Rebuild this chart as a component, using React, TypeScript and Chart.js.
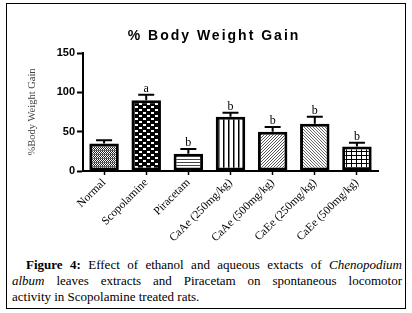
import React, { useEffect, useRef } from "react";
import { Chart, registerables } from "chart.js";

Chart.register(...registerables);

const categories = [
  "Normal",
  "Scopolamine",
  "Piracetam",
  "CaAe (250mg/kg)",
  "CaAe (500mg/kg)",
  "CaEe (250mg/kg)",
  "CaEe (500mg/kg)",
];
const means = [35, 90, 22, 69, 50, 60, 31];
const sems = [4, 7, 6, 5, 6, 9, 5];
const letters = ["", "a", "b", "b", "b", "b", "b"];
const yTickValues = [0, 50, 100, 150];
const chartTitle = "% Body Weight Gain";
const yAxisTitle = "%Body Weight Gain";

type Drawer = (g: CanvasRenderingContext2D, w: number, h: number) => void;

function makePattern(ctx: CanvasRenderingContext2D, w: number, h: number, draw: Drawer) {
  const c = document.createElement("canvas");
  c.width = w;
  c.height = h;
  const g = c.getContext("2d")!;
  g.fillStyle = "#fff";
  g.fillRect(0, 0, w, h);
  draw(g, w, h);
  return ctx.createPattern(c, "repeat")!;
}

const patternDrawers: [number, number, Drawer][] = [
  // Normal: fine checker with grey rows
  [4, 4, (g) => {
    g.fillStyle = "#222";
    for (let y = 0; y < 4; y++)
      for (let x = 0; x < 4; x++) if ((x + y) % 2 === 0) g.fillRect(x, y, 1, 1);
    g.fillStyle = "#666";
    g.fillRect(0, 3, 4, 1);
  }],
  // Scopolamine: bold checker
  [8, 6, (g) => {
    g.fillStyle = "#000";
    g.fillRect(0, 0, 8, 6);
    g.fillStyle = "#fff";
    g.fillRect(1, 1, 3, 2);
    g.fillRect(5, 4, 3, 2);
  }],
  // Piracetam: horizontal lines
  [3, 3, (g) => {
    g.fillStyle = "#444";
    g.fillRect(0, 0, 3, 1);
  }],
  // CaAe 250: vertical lines
  [5, 5, (g) => {
    g.fillStyle = "#000";
    g.fillRect(2, 0, 1.5, 5);
  }],
  // CaAe 500: fine diagonal texture
  [3, 3, (g) => {
    g.fillStyle = "#555";
    g.fillRect(2, 0, 1, 1);
    g.fillRect(1, 1, 1, 1);
    g.fillRect(0, 2, 1, 1);
  }],
  // CaEe 250: fine diagonal texture, other way
  [3, 3, (g) => {
    g.fillStyle = "#666";
    g.fillRect(0, 0, 1, 1);
    g.fillRect(1, 1, 1, 1);
    g.fillRect(2, 2, 1, 1);
  }],
  // CaEe 500: grid
  [5, 4, (g) => {
    g.fillStyle = "#000";
    g.fillRect(0, 0, 5, 1);
    g.fillRect(0, 0, 1, 4);
  }],
];

const overlayPlugin = {
  id: "overlay",
  afterDatasetsDraw(chart: any) {
    const ctx: CanvasRenderingContext2D = chart.ctx;
    const meta = chart.getDatasetMeta(0);
    const yScale = chart.scales.y;
    ctx.save();
    meta.data.forEach((el: any, i: number) => {
      const x = el.x;
      const yTop = yScale.getPixelForValue(means[i] + sems[i]);
      const yMean = yScale.getPixelForValue(means[i]);
      ctx.strokeStyle = "#000";
      ctx.lineWidth = 2;
      ctx.beginPath();
      ctx.moveTo(x, yMean);
      ctx.lineTo(x, yTop);
      ctx.moveTo(x - 8, yTop);
      ctx.lineTo(x + 8, yTop);
      ctx.stroke();
      if (letters[i]) {
        ctx.fillStyle = "#000";
        ctx.font = "12px 'Liberation Serif', serif";
        ctx.textAlign = "center";
        ctx.textBaseline = "alphabetic";
        ctx.fillText(letters[i], x, yTop - 3);
      }
    });
    ctx.restore();
  },
  afterDraw(chart: any) {
    const ctx: CanvasRenderingContext2D = chart.ctx;
    ctx.save();
    ctx.fillStyle = "#000";
    ctx.font = "bold 14px 'Liberation Sans', Arial, sans-serif";
    (ctx as any).letterSpacing = "2px";
    ctx.textAlign = "center";
    ctx.textBaseline = "alphabetic";
    ctx.fillText(chartTitle, 208, 37);
    (ctx as any).letterSpacing = "0px";
    ctx.translate(26, 109);
    ctx.rotate(-Math.PI / 2);
    ctx.font = "10.5px 'Liberation Serif', serif";
    ctx.fillStyle = "#444";
    ctx.textBaseline = "middle";
    ctx.fillText(yAxisTitle, 0, 0);
    ctx.restore();
  },
};

export default function App() {
  const ref = useRef<HTMLCanvasElement>(null);

  useEffect(() => {
    const canvas = ref.current!;
    const ctx = canvas.getContext("2d")!;
    const patterns = patternDrawers.map(([w, h, d]) => makePattern(ctx, w, h, d));
    const chart = new Chart(canvas, {
      type: "bar",
      data: {
        labels: categories,
        datasets: [
          {
            data: means,
            backgroundColor: patterns as any,
            borderColor: "#000",
            borderWidth: 3,
            borderSkipped: false,
            categoryPercentage: 1,
            barPercentage: 0.7,
          },
        ],
      },
      options: {
        responsive: false,
        animation: false,
        devicePixelRatio: 1,
        layout: { padding: { top: 50, right: 28, bottom: 0, left: 0 } },
        plugins: {
          legend: { display: false },
          tooltip: { enabled: false },
          title: { display: false },
        },
        scales: {
          x: {
            grid: {
              offset: false,
              drawOnChartArea: false,
              drawTicks: true,
              tickLength: 4,
              tickWidth: 1.5,
              tickColor: "#000",
            },
            border: { color: "#000", width: 2 },
            ticks: {
              color: "#000",
              maxRotation: 45,
              minRotation: 45,
              autoSkip: false,
              padding: 1,
              font: { family: "'Liberation Serif', serif", size: 11.5 },
            },
            afterFit(scale: any) {
              scale.height = 77;
            },
          },
          y: {
            min: 0,
            max: 150,
            afterBuildTicks(scale: any) {
              scale.ticks = yTickValues.map((v) => ({ value: v }));
            },
            grid: {
              drawOnChartArea: false,
              drawTicks: true,
              tickLength: 6,
              tickWidth: 2,
              tickColor: "#000",
            },
            border: { color: "#000", width: 2 },
            ticks: {
              color: "#000",
              padding: 2,
              font: { family: "'Liberation Sans', Arial, sans-serif", size: 11, weight: "bold" },
            },
            afterFit(scale: any) {
              scale.width = 77;
            },
          },
        },
      },
      plugins: [overlayPlugin],
    });
    return () => chart.destroy();
  }, []);

  const serif = "'Liberation Serif', 'Times New Roman', serif";
  const lineStyle: React.CSSProperties = {
    position: "absolute",
    left: 12,
    width: 390,
    fontFamily: serif,
    fontSize: 13,
    lineHeight: "16px",
    color: "#000",
    whiteSpace: "nowrap",
  };
  const justified: React.CSSProperties = {
    ...lineStyle,
    whiteSpace: "normal",
    textAlign: "justify",
    textAlignLast: "justify" as any,
  };

  return (
    <div
      style={{
        position: "absolute",
        left: 0,
        top: 0,
        width: 412,
        height: 313,
        background: "#fff",
        overflow: "hidden",
      }}
    >
      <div
        style={{
          position: "absolute",
          left: 6,
          top: 3,
          width: 400,
          height: 306,
          border: "1.5px solid #000",
          boxSizing: "border-box",
        }}
      />
      <canvas
        ref={ref}
        width={400}
        height={245}
        style={{ position: "absolute", left: 6, top: 3, width: 400, height: 245 }}
      />
      <div style={{ ...justified, left: 26, width: 376, top: 257 }}>
        <b>Figure 4:</b> Effect of ethanol and aqueous extacts of <i>Chenopodium</i>
      </div>
      <div style={{ ...justified, top: 273 }}>
        <i>album</i> leaves extracts and Piracetam on spontaneous locomotor
      </div>
      <div style={{ ...lineStyle, top: 289 }}>activity in Scopolamine treated rats.</div>
    </div>
  );
}
